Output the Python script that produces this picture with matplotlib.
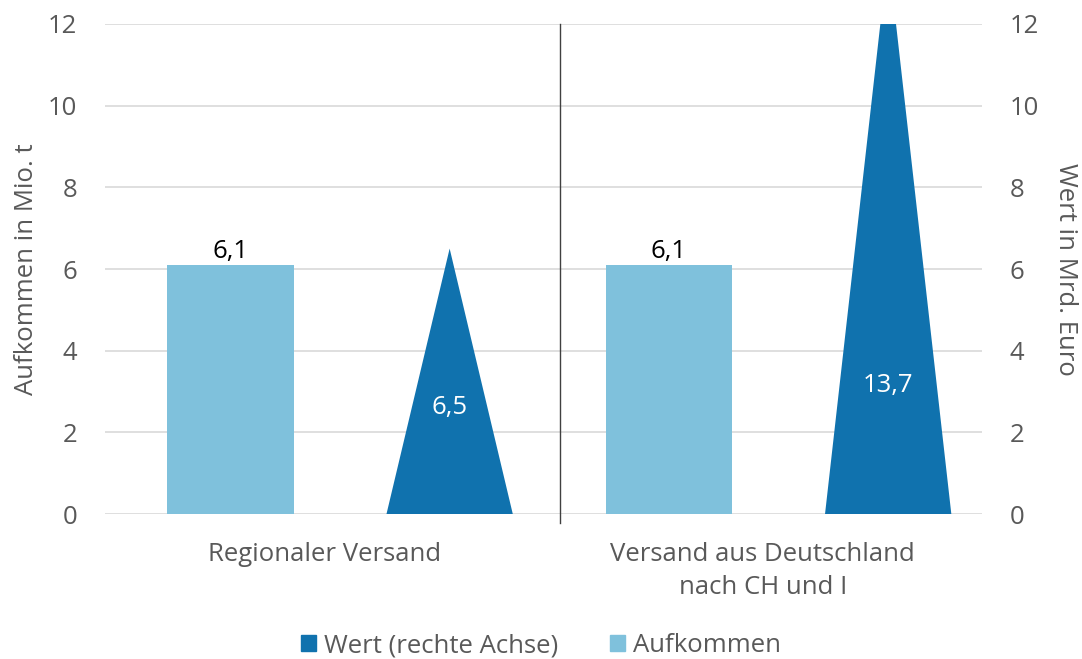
import matplotlib.pyplot as plt
import numpy as np

plt.rcParams['font.family'] = ['Open Sans', 'DejaVu Sans']

# data
categories = ['Regionaler Versand', 'Versand aus Deutschland\nnach CH und I']
aufkommen = [6.1, 6.1]          # Mio. t, left axis
wert = [6.5, 13.7]              # Mrd. Euro, right axis
aufkommen_labels = ['6,1', '6,1']
wert_labels = ['6,5', '13,7']
wert_label_y = [2.6, 3.15]
yticks = [0, 2, 4, 6, 8, 10, 12]

light = '#7FC1DC'
dark = '#1072AE'
grey = '#595959'
fs = 18.5

fig = plt.figure(figsize=(10.82, 6.59), dpi=100)
ax = fig.add_axes([0.097, 0.22, 0.8106, 0.7436])
ax2 = ax.twinx()

x = np.arange(len(categories))
bar_off = -0.214
tri_off = 0.286
w = 0.288

ax.set_axisbelow(True)
ax.bar(x + bar_off, aufkommen, width=w, color=light, label='Aufkommen', zorder=2)
for xi, v, lab in zip(x, aufkommen, aufkommen_labels):
    ax.text(xi + bar_off, v + 0.02, lab, ha='center', va='bottom', fontsize=fs, color='black')

# triangles on the right axis
for xi, v, lab, ly in zip(x, wert, wert_labels, wert_label_y):
    cx = xi + tri_off
    ax2.fill([cx - w / 2, cx, cx + w / 2], [0, v, 0], color=dark, lw=0, zorder=2)
    ax2.text(cx, ly, lab, ha='center', va='center', fontsize=fs, color='white')

ax.set_xlim(-0.5, 1.5)
ax.set_ylim(0, 12)
ax2.set_ylim(0, 12)
ax.set_yticks(yticks)
ax2.set_yticks(yticks)
ax.yaxis.grid(True, color='#D9D9D9', lw=1.2)
ax.set_xticks(x)
ax.set_xticklabels(categories, fontsize=fs, color=grey, linespacing=1.45)
ax.tick_params(axis='x', length=0, pad=20)
ax.tick_params(axis='y', length=0, labelsize=fs, labelcolor=grey, pad=20)
ax2.tick_params(axis='y', length=0, labelsize=fs, labelcolor=grey, pad=20)

for a in (ax, ax2):
    for s in a.spines.values():
        s.set_visible(False)

# separator between categories
ax.plot([0.538, 0.538], [-0.22, 12], color='#404040', lw=1, clip_on=False, zorder=3)

ax.set_ylabel('Aufkommen in Mio. t', fontsize=fs, color=grey, labelpad=6)
ax2.set_ylabel('Wert in Mrd. Euro', fontsize=fs, color=grey, rotation=270, labelpad=28)

handles = [plt.Rectangle((0, 0), 1, 1, color=dark), plt.Rectangle((0, 0), 1, 1, color=light)]
fig.legend(handles, ['Wert (rechte Achse)', 'Aufkommen'], loc='lower center',
           bbox_to_anchor=(0.5, -0.034), ncol=2, frameon=False, fontsize=fs,
           handlelength=0.6, handleheight=0.6, handletextpad=0.3, columnspacing=2.0,
           labelcolor=grey)

fig.savefig('out.png', dpi=100)
